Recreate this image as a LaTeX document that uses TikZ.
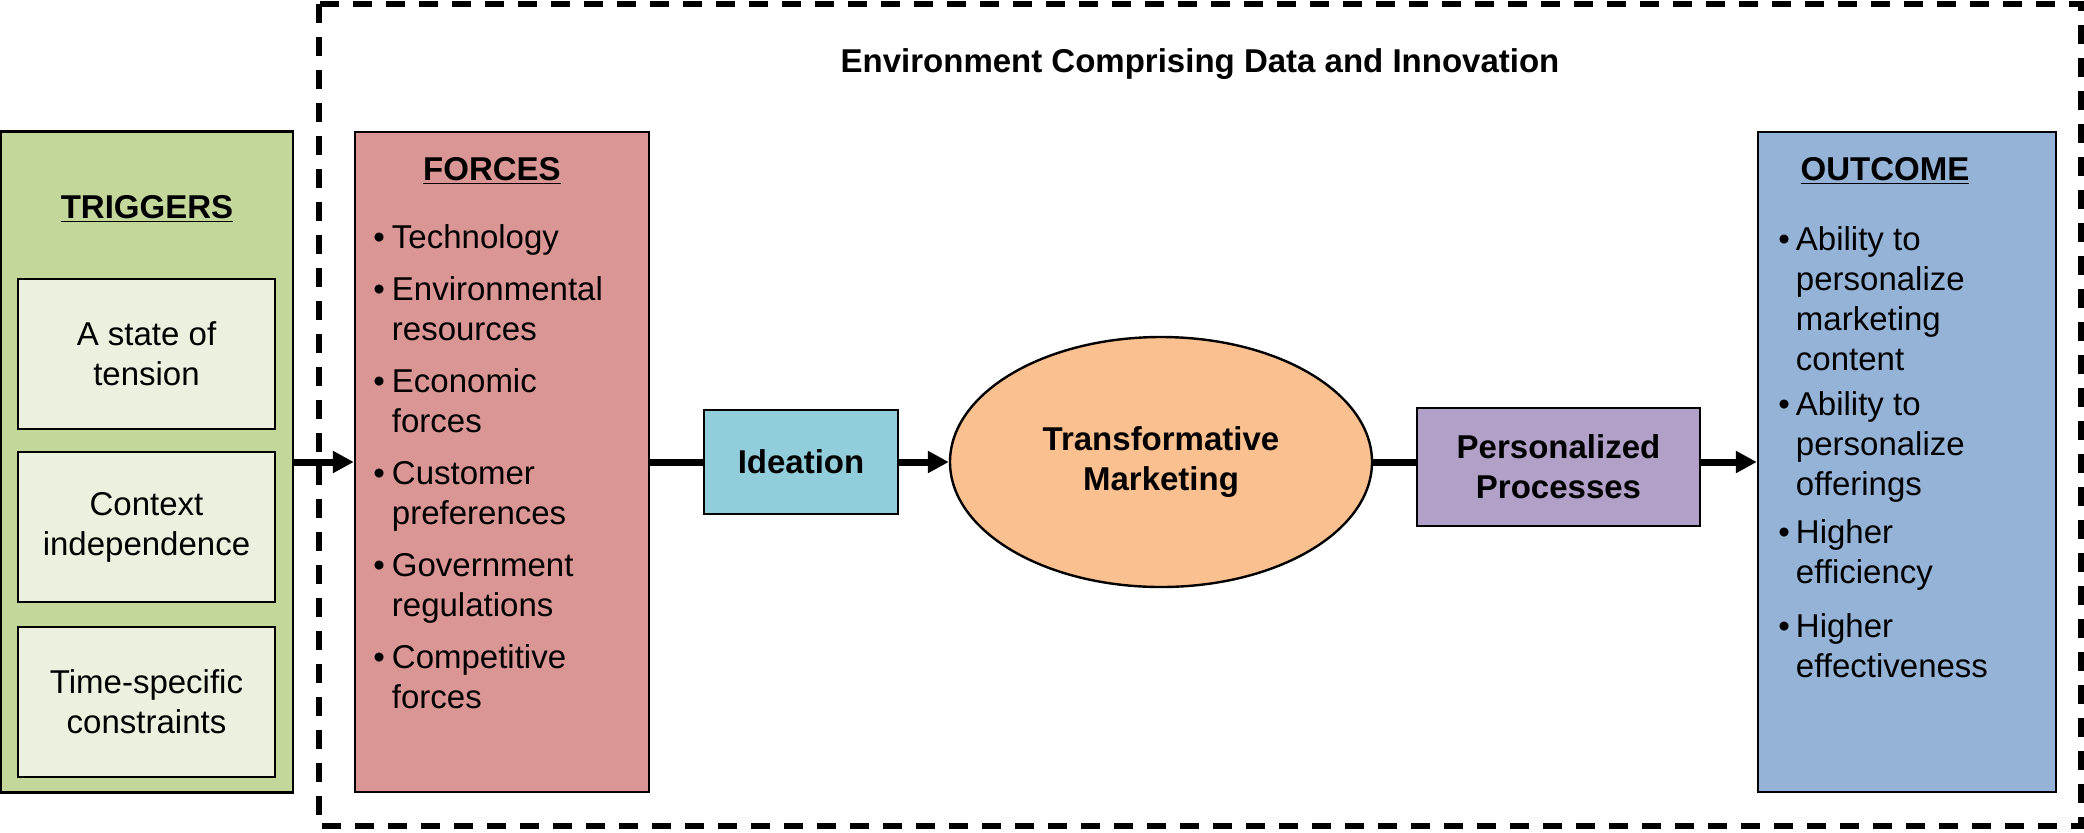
\documentclass[tikz,border=0pt]{standalone}
\usepackage{fontspec}
\setmainfont{Liberation Sans}
\usetikzlibrary{shapes.geometric,arrows.meta}

\definecolor{trigGreen}{HTML}{C4D79B}
\definecolor{trigPale}{HTML}{EBF1DE}
\definecolor{forceRed}{HTML}{DA9694}
\definecolor{ideaBlue}{HTML}{92CDDC}
\definecolor{tmOrange}{HTML}{FAC090}
\definecolor{ppPurple}{HTML}{B1A0C7}
\definecolor{outBlue}{HTML}{95B3D7}

\newcommand{\bodyfont}{\fontsize{16.5}{20}\selectfont}

\begin{document}
\begin{tikzpicture}[x=0.5pt, y=-0.5pt,
  box/.style={draw, line width=1.2pt, inner sep=0pt, align=center, font=\bodyfont},
  head/.style={anchor=base, inner sep=0pt, font=\bfseries\bodyfont},
  blist/.style={anchor=base west, inner sep=0pt, font=\bodyfont},
  flow/.style={line width=3.5pt},
  arr/.style={flow, -{Triangle[length=10.5pt,width=10.5pt]}}]
  \useasboundingbox (0,0) rectangle (2084,832);

  \draw[line width=2.8pt, dash pattern=on 9.5pt off 7pt] (319,4) rectangle (2081,826);
  \node[head] (envtitle) at (1200,72) {Environment Comprising Data and Innovation};

  \node[box, fill=trigGreen, minimum width=146pt, minimum height=330.5pt] (triggers) at (147,462) {};
  \node[head] (trighead) at (147,218) {\underline{TRIGGERS}};
  \node[box, fill=trigPale, minimum width=128.5pt, minimum height=75pt] (tension) at (146.5,354) {A state of\\tension};
  \node[box, fill=trigPale, minimum width=128.5pt, minimum height=75pt] (context) at (146.5,527) {Context\\independence};
  \node[box, fill=trigPale, minimum width=128.5pt, minimum height=75pt] (timespec) at (146.5,702) {Time-specific\\constraints};

  \node[box, fill=forceRed, minimum width=147pt, minimum height=330pt] (forces) at (502,462) {};
  \node[head] (forcehead) at (492,180) {\underline{FORCES}};
  \node[blist] (forcelist) at (373,248) {\fontsize{16.5}{19.75}\selectfont
    \begin{tabular}[t]{@{}l@{\hspace{3.5pt}}l@{}}
      \textbullet & Technology\\[6.5pt]
      \textbullet & Environmental\\ & resources\\[6.5pt]
      \textbullet & Economic\\ & forces\\[6.5pt]
      \textbullet & Customer\\ & preferences\\[6.5pt]
      \textbullet & Government\\ & regulations\\[6.5pt]
      \textbullet & Competitive\\ & forces
    \end{tabular}};

  \node[box, fill=ideaBlue, minimum width=97pt, minimum height=52pt, font=\bfseries\bodyfont] (ideation) at (801,462) {Ideation};
  \node[box, ellipse, fill=tmOrange, minimum width=211pt, minimum height=125pt, font=\bfseries\bodyfont] (transmkt) at (1161,462) {\raisebox{-1.5pt}{\begin{tabular}{@{}c@{}}Transformative\\Marketing\end{tabular}}};
  \node[box, fill=ppPurple, minimum width=141.5pt, minimum height=59pt, font=\bfseries\bodyfont] (persproc) at (1558.5,467) {Personalized\\Processes};

  \node[box, fill=outBlue, minimum width=149pt, minimum height=330pt] (outcome) at (1907,462) {};
  \node[head] (outhead) at (1885,180) {\underline{OUTCOME}};
  \node[blist] (outlist) at (1778,250) {
    \begin{tabular}[t]{@{}l@{\hspace{3pt}}l@{}}
      \textbullet & Ability to\\ & personalize\\ & marketing\\ & content\\[2.5pt]
      \textbullet & Ability to\\ & personalize\\ & offerings\\[4pt]
      \textbullet & Higher\\ & efficiency\\[7pt]
      \textbullet & Higher\\ & effectiveness
    \end{tabular}};

  \draw[arr] (triggers.east) -- (forces.west);
  \draw[flow] (forces.east) -- (ideation.west);
  \draw[arr] (ideation.east) -- (transmkt.west);
  \draw[flow] (transmkt.east) -- (transmkt.east -| persproc.west);
  \draw[arr] (transmkt.east -| persproc.east) -- (transmkt.east -| outcome.west);
\end{tikzpicture}
\end{document}
